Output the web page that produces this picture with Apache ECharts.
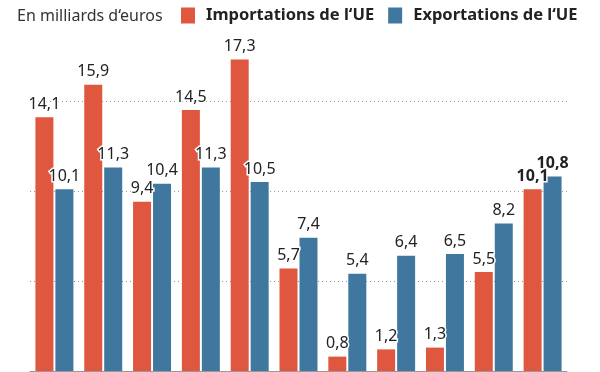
<!DOCTYPE html>
<html><head><meta charset="utf-8">
<script src="https://cdn.jsdelivr.net/npm/echarts@6/dist/echarts.min.js"></script>
<style>html,body{margin:0;padding:0;background:#fff}#c{width:600px;height:372px}</style>
</head><body><div id="c"></div>
<script>
var categories = ['1','2','3','4','5','6','7','8','9','10','11'];
var importations = [14.1, 15.9, 9.4, 14.5, 17.3, 5.7, 0.8, 1.2, 1.3, 5.5, 10.1];
var exportations = [10.1, 11.3, 10.4, 11.3, 10.5, 7.4, 5.4, 6.4, 6.5, 8.2, 10.8];
var unitText = 'En milliards d\u2018euros';
var seriesNames = ['Importations de l\u2018UE', 'Exportations de l\u2018UE'];

var FONT = '"Noto Sans", sans-serif';
function fmt(v){ return String(v).replace('.', ','); }
function mkData(arr){
  return arr.map(function(v, i){
    var d = {value: v};
    if (i === arr.length - 1) d.label = {fontWeight: 'bold'};
    return d;
  });
}
var labelCfg = {
  show: true, position: 'top', distance: 5,
  fontFamily: FONT, fontSize: 16, color: '#222',
  textBorderColor: '#fff', textBorderWidth: 3,
  formatter: function(p){ return fmt(p.value); }
};
var chart = echarts.init(document.getElementById('c'), null, {renderer: 'canvas'});
chart.setOption({
  animation: false,
  title: {
    text: unitText, left: 12, top: 3,
    textStyle: {fontFamily: FONT, fontSize: 16, fontWeight: 'normal', color: '#333'}
  },
  legend: {
    left: 176, top: 2, itemWidth: 14, itemHeight: 16, itemGap: 14,
    icon: 'rect',
    textStyle: {fontFamily: FONT, fontSize: 16.5, fontWeight: 'bold', color: '#222', padding: [0, 0, 0, 6]},
    data: seriesNames
  },
  grid: {left: 30, right: 33, top: 11, height: 360},
  xAxis: {
    type: 'category', data: categories,
    axisLine: {show: true, lineStyle: {color: '#999', width: 1}},
    axisTick: {show: false}, axisLabel: {show: false}, splitLine: {show: false}
  },
  yAxis: {
    type: 'value', min: 0, max: 20, interval: 5,
    axisLine: {show: false}, axisTick: {show: false}, axisLabel: {show: false},
    splitLine: {show: true, lineStyle: {type: [1, 3], color: ['rgba(0,0,0,0)', '#999', '#999', '#999', 'rgba(0,0,0,0)'], width: 1}}
  },
  series: [
    {name: seriesNames[0], type: 'bar', data: mkData(importations), barWidth: 18, barGap: '11%',
     itemStyle: {color: '#E0573F'}, label: labelCfg},
    {name: seriesNames[1], type: 'bar', data: mkData(exportations), barWidth: 18,
     itemStyle: {color: '#3F779E'}, label: labelCfg}
  ]
});
</script></body></html>
